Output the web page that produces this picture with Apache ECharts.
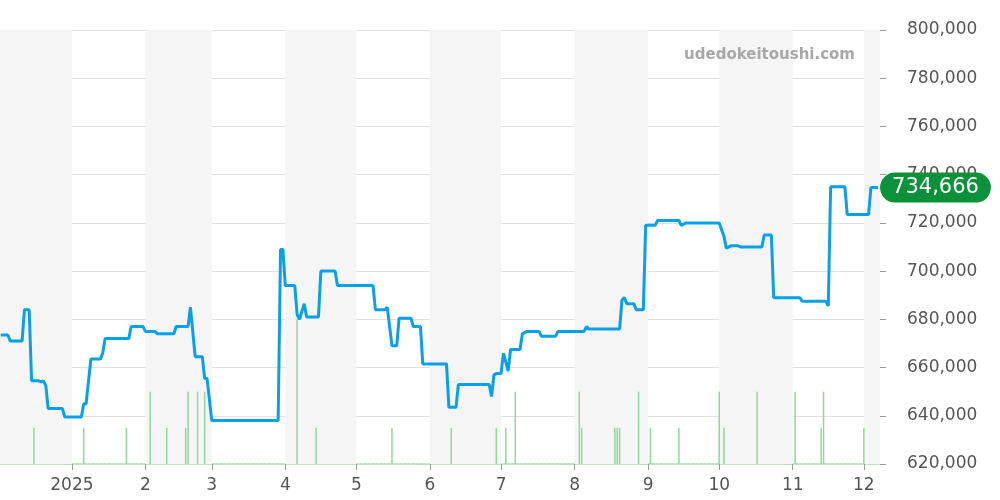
<!DOCTYPE html>
<html>
<head>
<meta charset="utf-8">
<script src="https://cdn.jsdelivr.net/npm/echarts@6/dist/echarts.min.js"></script>
<style>html,body{margin:0;padding:0;background:#fff}#main{width:1000px;height:500px}</style>
</head>
<body>
<div id="main"></div>
<script>
// price steps (date, yen)
var priceDates = ['2024-12-02','2024-12-05','2024-12-06','2024-12-11','2024-12-12','2024-12-14','2024-12-15','2024-12-18','2024-12-19','2024-12-20','2024-12-21','2024-12-22','2024-12-28','2024-12-29',
  '2025-01-05','2025-01-06','2025-01-07','2025-01-09','2025-01-13','2025-01-14','2025-01-15','2025-01-25','2025-01-26','2025-01-31','2025-02-01','2025-02-05','2025-02-06','2025-02-13','2025-02-14','2025-02-19','2025-02-20','2025-02-22','2025-02-25','2025-02-26','2025-02-27',
  '2025-03-01','2025-03-29','2025-03-30','2025-03-31','2025-04-01','2025-04-05','2025-04-06','2025-04-07','2025-04-09','2025-04-10','2025-04-15','2025-04-16','2025-04-22','2025-04-23',
  '2025-05-08','2025-05-09','2025-05-13','2025-05-14','2025-05-16','2025-05-18','2025-05-19','2025-05-24','2025-05-25','2025-05-28','2025-05-29',
  '2025-06-08','2025-06-09','2025-06-12','2025-06-13','2025-06-26','2025-06-27','2025-06-28','2025-06-29',
  '2025-07-01','2025-07-02','2025-07-04','2025-07-05','2025-07-09','2025-07-10','2025-07-12','2025-07-17','2025-07-18','2025-07-24','2025-07-25',
  '2025-08-05','2025-08-06','2025-08-07','2025-08-20','2025-08-21','2025-08-22','2025-08-23','2025-08-26','2025-08-27','2025-08-30','2025-08-31',
  '2025-09-04','2025-09-05','2025-09-14','2025-09-15','2025-09-17',
  '2025-10-01','2025-10-03','2025-10-04','2025-10-06','2025-10-09','2025-10-10','2025-10-19','2025-10-20','2025-10-23','2025-10-24',
  '2025-11-04','2025-11-05','2025-11-15','2025-11-16','2025-11-17','2025-11-23','2025-11-24','2025-12-03','2025-12-04','2025-12-07'];
var priceValues = [673500,673500,671000,671000,684000,684000,654500,654500,654000,654500,652500,643000,643000,639500,
  639500,645000,645000,663500,663500,666000,672000,672000,677000,677000,675000,675000,674000,674000,677000,677000,685000,664500,664500,655500,655500,
  638000,638000,709000,709000,694000,694000,682000,680000,686500,681000,681000,700000,700000,694000,
  694000,684000,684000,685000,669000,669000,680500,680500,677000,677000,661500,
  661500,643500,643500,653000,653000,648000,657000,657500,
  657500,666000,658500,667500,667500,674000,675000,675000,673000,673000,675000,
  675000,677000,676000,676000,688000,689000,686500,686500,684000,684000,719000,
  719000,721000,721000,719000,720000,
  720000,714500,709500,710500,710500,710000,710000,715000,715000,689000,
  689000,687500,687500,685500,735000,735000,723500,723500,734666,734666];

// sales count per day
var volDates = ['2024-12-16','2025-01-06','2025-01-24','2025-02-03','2025-02-10','2025-02-18','2025-02-19','2025-02-23','2025-02-26','2025-04-06','2025-04-14','2025-05-16','2025-06-10','2025-06-29','2025-07-03','2025-07-07','2025-08-03','2025-08-04','2025-08-18','2025-08-19','2025-08-20','2025-08-28','2025-09-02','2025-09-14','2025-10-01','2025-10-03','2025-10-17','2025-11-02','2025-11-13','2025-11-14','2025-12-01'];
var volValues = [1,1,1,2,1,1,2,2,2,4,1,1,1,1,1,2,2,1,1,1,1,2,1,1,2,1,2,2,1,2,1];

// shaded months
var bandStarts = ['2024-12-01','2025-02-01','2025-04-01','2025-06-01','2025-08-01','2025-10-01','2025-12-01'];
var bandEnds   = ['2025-01-01','2025-03-01','2025-05-01','2025-07-01','2025-09-01','2025-11-01','2026-01-01'];

var lastLabel = '734,666';

var myChart = echarts.init(document.getElementById('main'));
var DAY = 86400000;
var xMin = +new Date('2024-12-02'), xMax = +new Date('2025-12-07T12:00:00');

var option = {
  animation: false,
  title: {
    text: 'udedokeitoushi.com', right: 140, top: 43,
    textStyle: { color: '#a8a8a8', fontSize: 15, fontWeight: 'bold', fontFamily: 'DejaVu Sans' }
  },
  grid: { left: 0, right: 120, top: 30, bottom: 36 },
  xAxis: {
    type: 'time', min: xMin, max: xMax,
    minInterval: 28 * DAY, maxInterval: 31 * DAY, splitNumber: 12,
    axisLine: { show: true, lineStyle: { color: '#b5e3bd', type: 'dotted', width: 2 } },
    axisTick: { show: true, length: 6, lineStyle: { color: '#999' } },
    splitLine: { show: false },
    axisLabel: {
      color: '#555', fontSize: 17, fontFamily: 'DejaVu Sans', margin: 13,
      formatter: { year: '{yyyy}', month: '{M}', day: '' }
    }
  },
  yAxis: [{
    type: 'value', position: 'right', min: 620000, max: 800000, interval: 20000,
    axisLine: { show: false },
    axisTick: { show: true, length: 6, lineStyle: { color: '#999' } },
    splitLine: { lineStyle: { color: '#e0e0e0' } },
    axisLabel: { color: '#555', fontSize: 17, fontFamily: 'DejaVu Sans', margin: 27,
      formatter: function (v) { return v.toLocaleString('en-US'); } }
  }, {
    type: 'value', min: 0, max: 12, show: false
  }],
  series: [{
    type: 'bar', yAxisIndex: 1, barWidth: 1.5,
    itemStyle: { color: '#8fd89b' },
    data: volDates.map(function (d, i) { return [d, volValues[i]]; }),
    markArea: {
      silent: true, itemStyle: { color: '#f5f5f5' },
      data: bandStarts.map(function (s, i) { return [{ xAxis: s }, { xAxis: bandEnds[i] }]; })
    },
    z: 1
  }, {
    type: 'line', yAxisIndex: 0, symbol: 'none',
    lineStyle: { color: '#08a0e9', width: 3 },
    data: priceDates.map(function (d, i) { return [d, priceValues[i]]; }),
    endLabel: {
      show: true, formatter: lastLabel, distance: 0, offset: [2, 0],
      color: '#fff', fontSize: 21, fontFamily: 'DejaVu Sans',
      backgroundColor: '#0a913a', borderRadius: 16, padding: [5, 12, 4, 12]
    },
    z: 3
  }]
};
myChart.setOption(option);
</script>
</body>
</html>
